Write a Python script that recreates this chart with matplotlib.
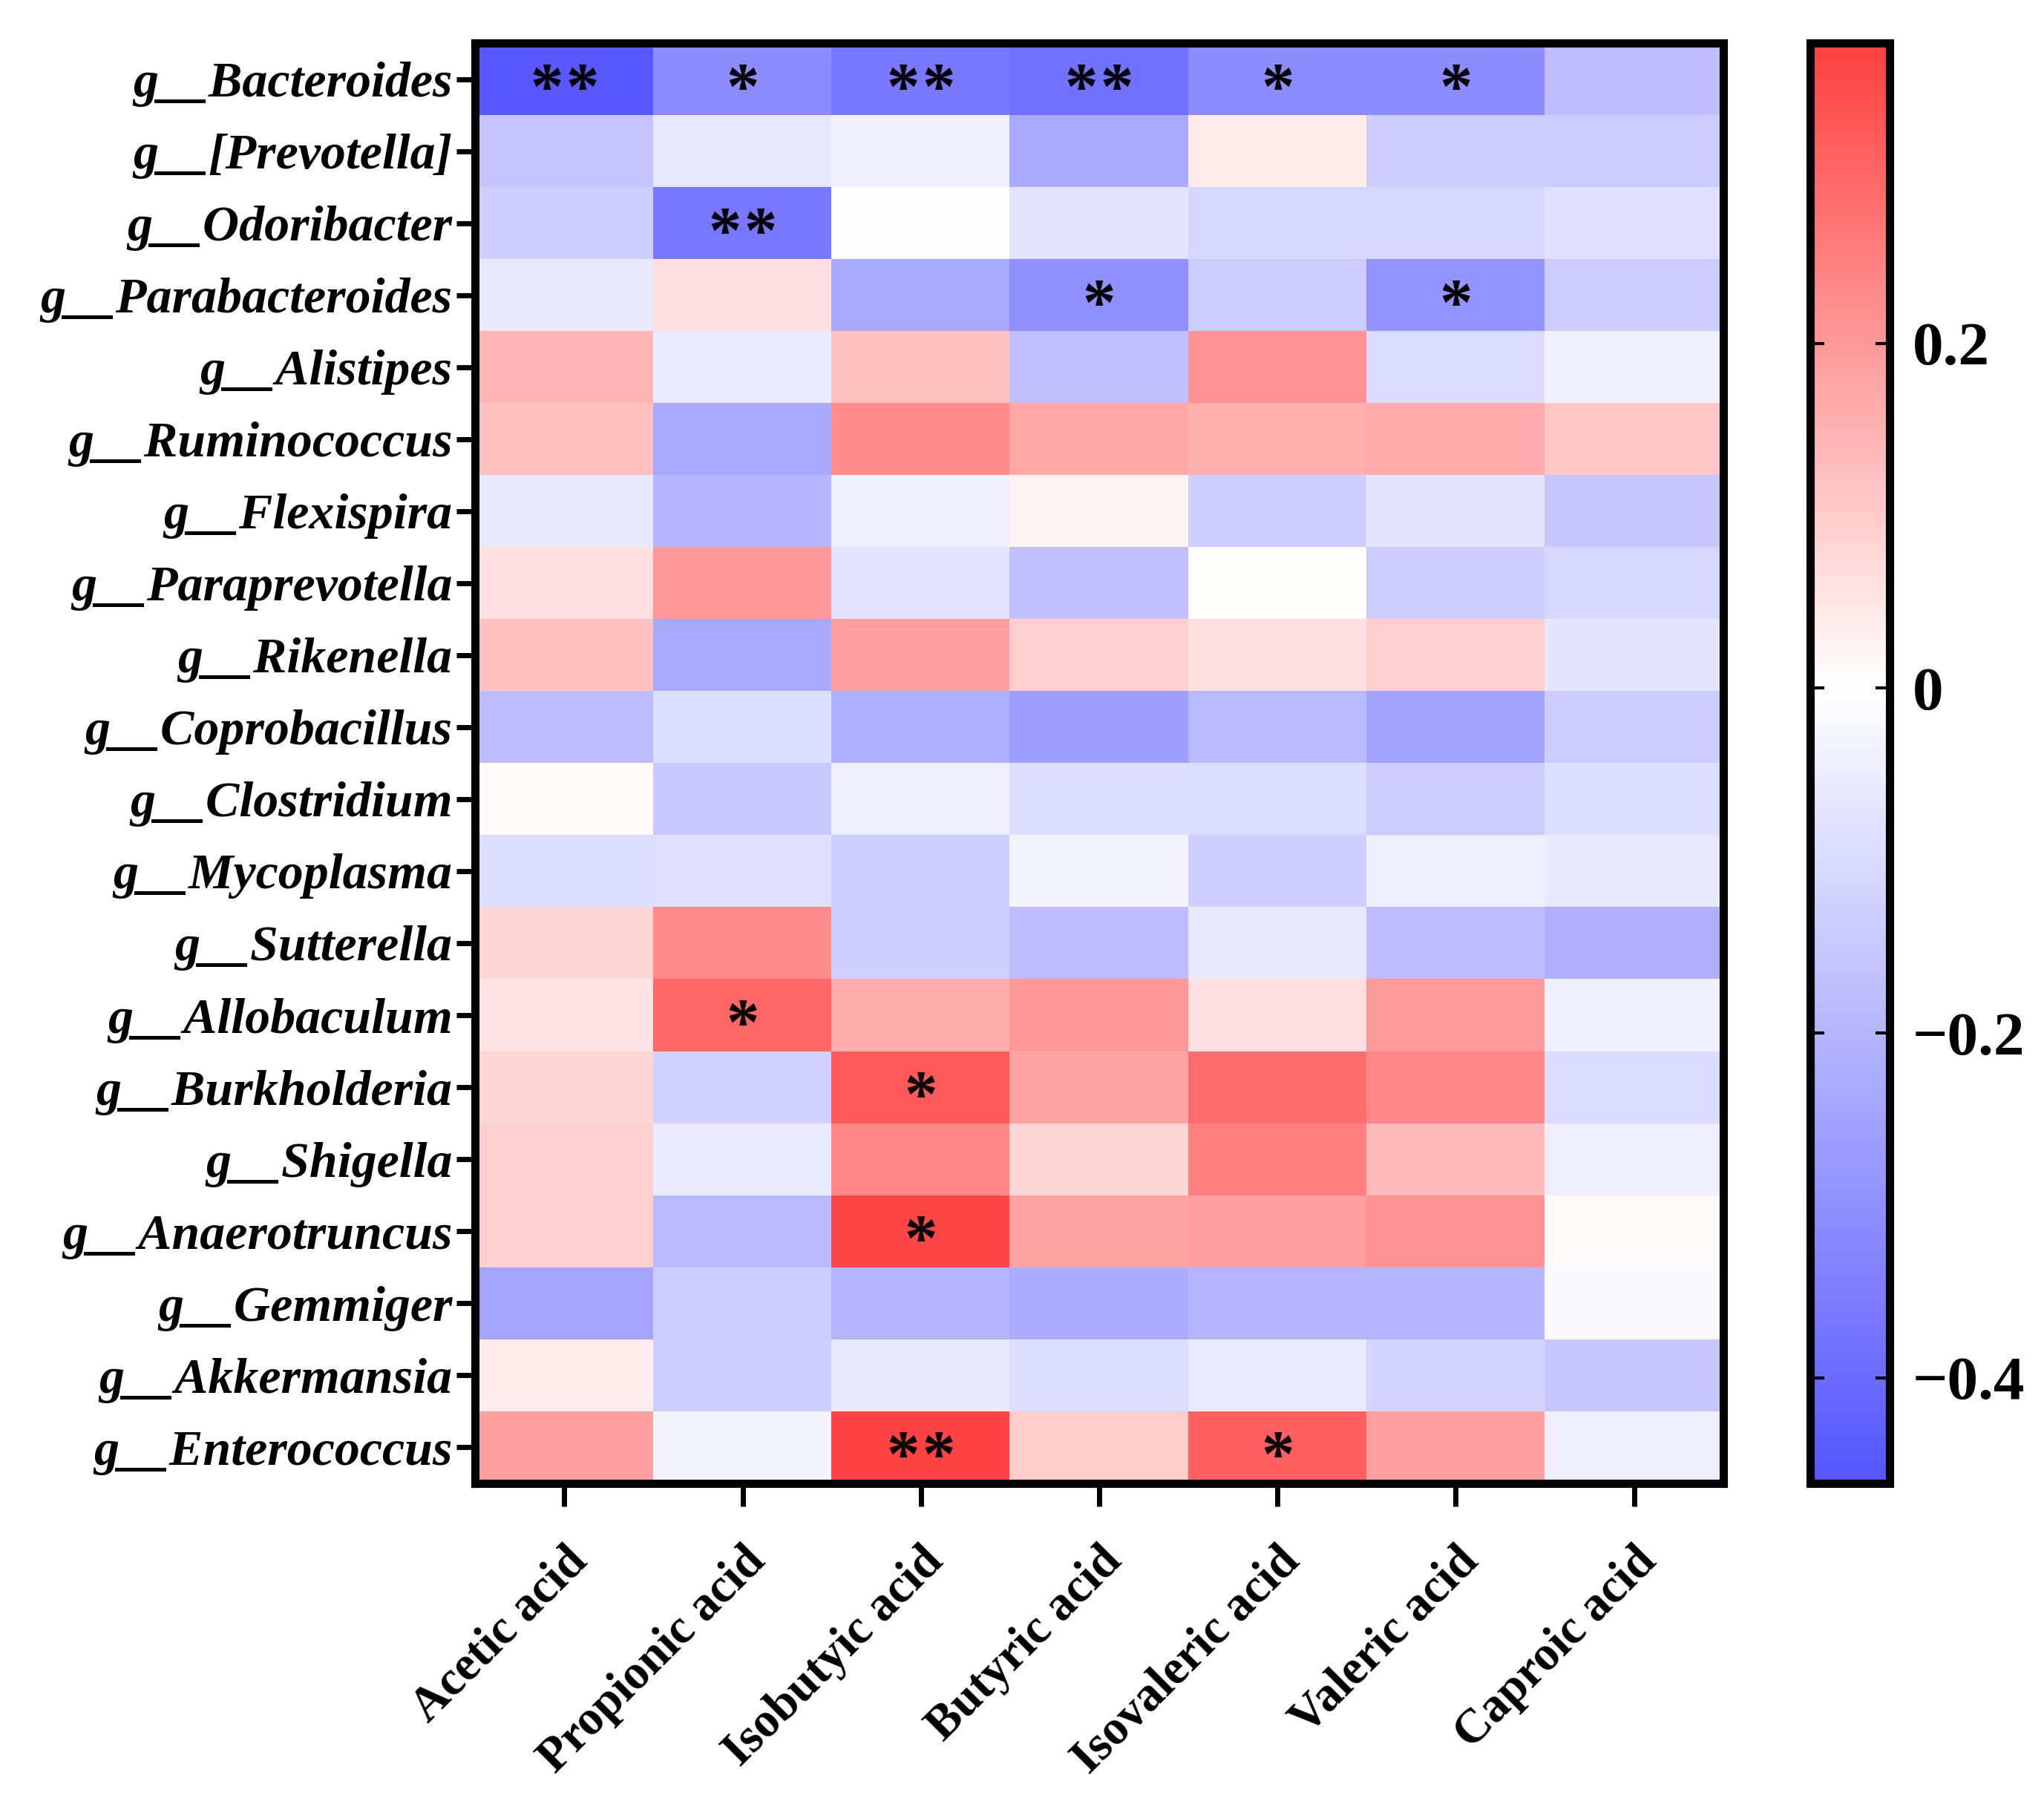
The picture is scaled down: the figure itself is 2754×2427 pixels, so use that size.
import matplotlib.pyplot as plt
import numpy as np
from matplotlib.colors import LinearSegmentedColormap, Normalize

genera = ['g__Bacteroides', 'g__[Prevotella]', 'g__Odoribacter', 'g__Parabacteroides',
          'g__Alistipes', 'g__Ruminococcus', 'g__Flexispira', 'g__Paraprevotella',
          'g__Rikenella', 'g__Coprobacillus', 'g__Clostridium', 'g__Mycoplasma',
          'g__Sutterella', 'g__Allobaculum', 'g__Burkholderia', 'g__Shigella',
          'g__Anaerotruncus', 'g__Gemmiger', 'g__Akkermansia', 'g__Enterococcus']
acids = ['Acetic acid', 'Propionic acid', 'Isobutyic acid', 'Butyric acid',
         'Isovaleric acid', 'Valeric acid', 'Caproic acid']

# correlation values, one row per genus
corr = np.array([
    [-0.45, -0.31, -0.365, -0.38, -0.31, -0.31, -0.175],
    [-0.16, -0.06, -0.035, -0.23, 0.04, -0.135, -0.135],
    [-0.13, -0.365, 0.0, -0.07, -0.11, -0.11, -0.08],
    [-0.06, 0.06, -0.235, -0.30, -0.135, -0.285, -0.135],
    [0.145, -0.055, 0.12, -0.17, 0.21, -0.095, -0.04],
    [0.12, -0.23, 0.227, 0.175, 0.15, 0.165, 0.105],
    [-0.06, -0.20, -0.04, 0.02, -0.13, -0.07, -0.15],
    [0.06, 0.20, -0.075, -0.17, 0.005, -0.135, -0.11],
    [0.12, -0.23, 0.185, 0.095, 0.06, 0.095, -0.07],
    [-0.18, -0.09, -0.215, -0.26, -0.19, -0.25, -0.135],
    [0.01, -0.145, -0.045, -0.09, -0.09, -0.135, -0.09],
    [-0.09, -0.08, -0.13, -0.03, -0.13, -0.045, -0.06],
    [0.08, 0.227, -0.13, -0.18, -0.06, -0.175, -0.21],
    [0.055, 0.296, 0.16, 0.20, 0.06, 0.195, -0.04],
    [0.08, -0.12, 0.323, 0.18, 0.28, 0.232, -0.095],
    [0.095, -0.055, 0.232, 0.08, 0.25, 0.135, -0.045],
    [0.095, -0.19, 0.36, 0.18, 0.185, 0.21, 0.01],
    [-0.245, -0.135, -0.20, -0.225, -0.20, -0.20, -0.015],
    [0.035, -0.13, -0.06, -0.09, -0.055, -0.115, -0.15],
    [0.185, -0.03, 0.365, 0.10, 0.31, 0.185, -0.045],
])

stars = [
    ['**', '*', '**', '**', '*', '*', ''],
    ['', '', '', '', '', '', ''],
    ['', '**', '', '', '', '', ''],
    ['', '', '', '*', '', '*', ''],
    ['', '', '', '', '', '', ''],
    ['', '', '', '', '', '', ''],
    ['', '', '', '', '', '', ''],
    ['', '', '', '', '', '', ''],
    ['', '', '', '', '', '', ''],
    ['', '', '', '', '', '', ''],
    ['', '', '', '', '', '', ''],
    ['', '', '', '', '', '', ''],
    ['', '', '', '', '', '', ''],
    ['', '*', '', '', '', '', ''],
    ['', '', '*', '', '', '', ''],
    ['', '', '', '', '', '', ''],
    ['', '', '*', '', '', '', ''],
    ['', '', '', '', '', '', ''],
    ['', '', '', '', '', '', ''],
    ['', '', '**', '', '*', '', ''],
]

cbar_ticks = [-0.4, -0.2, 0, 0.2]
vmin, vmax = -0.461, 0.374

plt.rcParams['font.family'] = ['Liberation Serif', 'DejaVu Serif']
plt.rcParams['font.weight'] = 'bold'

mid = (0 - vmin) / (vmax - vmin)
cmap = LinearSegmentedColormap.from_list(
    'bwr_custom', [(0, (85/255, 85/255, 1.0)), (mid, (1, 1, 1)), (1, (1, 64/255, 64/255))])
norm = Normalize(vmin=vmin, vmax=vmax)

fig = plt.figure(figsize=(27.54, 24.27), dpi=100)
ax = fig.add_axes([0.2325, 0.1765, 0.6105, 0.7995])
cax = fig.add_axes([0.8855, 0.1765, 0.039, 0.7995])

im = ax.imshow(corr, cmap=cmap, norm=norm, aspect='auto', interpolation='nearest')

# significance stars, each star drawn on its own so '**' stays tight
for i in range(len(genera)):
    for j in range(len(acids)):
        n = len(stars[i][j])
        offsets = [0] if n == 1 else ([-0.1, 0.1] if n == 2 else [])
        for dx in offsets:
            ax.text(j + dx, i + 0.17, '*', ha='center', va='center',
                    fontsize=64, color='black')

ax.set_xticks(range(len(acids)))
ax.set_xticklabels(acids, rotation=45, ha='right', rotation_mode='anchor',
                   fontsize=47, fontweight='bold')
ax.set_yticks(range(len(genera)))
ax.set_yticklabels(genera, fontsize=49, fontweight='bold', style='italic')
ax.tick_params(axis='y', length=18, width=5, pad=4)
ax.tick_params(axis='x', length=22, width=5, pad=32)
for s in ax.spines.values():
    s.set_linewidth(8)

cb = fig.colorbar(im, cax=cax, ticks=cbar_ticks)
cb.ax.set_yticklabels(['\u22120.4', '\u22120.2', '0', '0.2'])
cb.ax.tick_params(direction='in', length=14, width=3, right=True, left=True,
                  labelsize=60, pad=22)
cb.outline.set_linewidth(8)

fig.savefig('out.png', dpi=100)
